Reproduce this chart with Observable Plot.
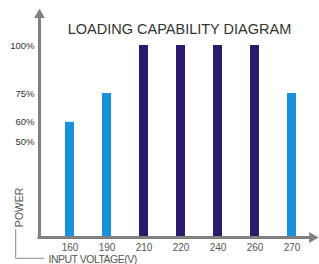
<!DOCTYPE html>
<html><head><meta charset="utf-8">
<script src="https://cdn.jsdelivr.net/npm/d3@7"></script>
<script src="https://cdn.jsdelivr.net/npm/@observablehq/plot@0.6"></script>
<style>body{margin:0;background:#fff}</style>
</head><body><div id="chart"></div>
<script>
const voltages = ["160","190","210","220","240","260","270"];
const power = [0.6, 0.75, 1, 1, 1, 1, 0.75];
const loadClass = ["derated","derated","full","full","full","full","derated"];
const yTickValues = [0.5, 0.6, 0.75, 1];
const yTickLabels = ["50%","60%","75%","100%"];
const title = "LOADING CAPABILITY DIAGRAM";
const yLabel = "POWER";
const xLabel = "INPUT VOLTAGE(V)";

const data = voltages.map((v, i) => ({voltage: v, power: power[i], load: loadClass[i]}));
const W = 319, H = 264, mL = 39, mR = 9, mT = 16, mB = 27;
const axisColor = "#808080";

const chart = Plot.plot({
  width: W, height: H,
  marginLeft: mL, marginRight: mR, marginTop: mT, marginBottom: mB,
  style: {fontFamily: "'Liberation Sans', Arial, sans-serif", background: "#fff", overflow: "visible"},
  x: {type: "band", domain: voltages, paddingInner: 0.759, paddingOuter: 0.509, align: 0.639},
  y: {domain: [0, 1.151]},
  color: {domain: ["derated", "full"], range: ["#1c91db", "#2a1b6b"]},
  marks: [
    Plot.barY(data, {x: "voltage", y: "power", fill: "load"}),
    Plot.axisY({ticks: yTickValues, tickSize: 0, tickPadding: 5,
      tickFormat: d => yTickLabels[yTickValues.indexOf(d)], fontSize: 9.5, fill: "#333", label: null}),
    Plot.axisX({tickSize: 0, tickPadding: 6, fontSize: 10, fill: "#555", label: null}),
    Plot.frame({anchor: "left", stroke: axisColor, strokeWidth: 3}),
    Plot.ruleY([0], {stroke: axisColor, strokeWidth: 3, strokeLinecap: "square"}),
    Plot.dot([0], {frameAnchor: "top-left", symbol: "triangle", r: 4, fill: axisColor, stroke: null, dy: -1.5}),
    Plot.dot([0], {frameAnchor: "bottom-right", symbol: "triangle", rotate: 90, r: 4, fill: axisColor, stroke: null, dx: 1.8}),
    Plot.text([title], {frameAnchor: "top", text: d => d, textAnchor: "middle", lineAnchor: "middle",
      dx: 4.5, dy: 12.8, fontSize: 14.5, fill: "#333"}),
    Plot.text([yLabel], {frameAnchor: "bottom-left", text: d => d, textAnchor: "middle", lineAnchor: "middle",
      rotate: -90, dx: -20, dy: -30, fontSize: 10.5, fill: "#555"}),
    Plot.text([xLabel], {frameAnchor: "bottom-left", text: d => d, textAnchor: "start", lineAnchor: "middle",
      dx: 9, dy: 22, fontSize: 10.5, fill: "#555"}),
    () => d3.create("svg:path")
      .attr("d", `M${mL - 23.3},${H - mB - 8}V${H - mB + 21.3}H${mL + 5}`)
      .attr("fill", "none").attr("stroke", "#888").attr("stroke-width", 1)
      .node()
  ]
});
d3.select(chart).selectAll("text").filter(function () { return this.textContent === xLabel; })
  .attr("letter-spacing", "-0.5px");
document.getElementById("chart").appendChild(chart);
</script>
</body></html>
